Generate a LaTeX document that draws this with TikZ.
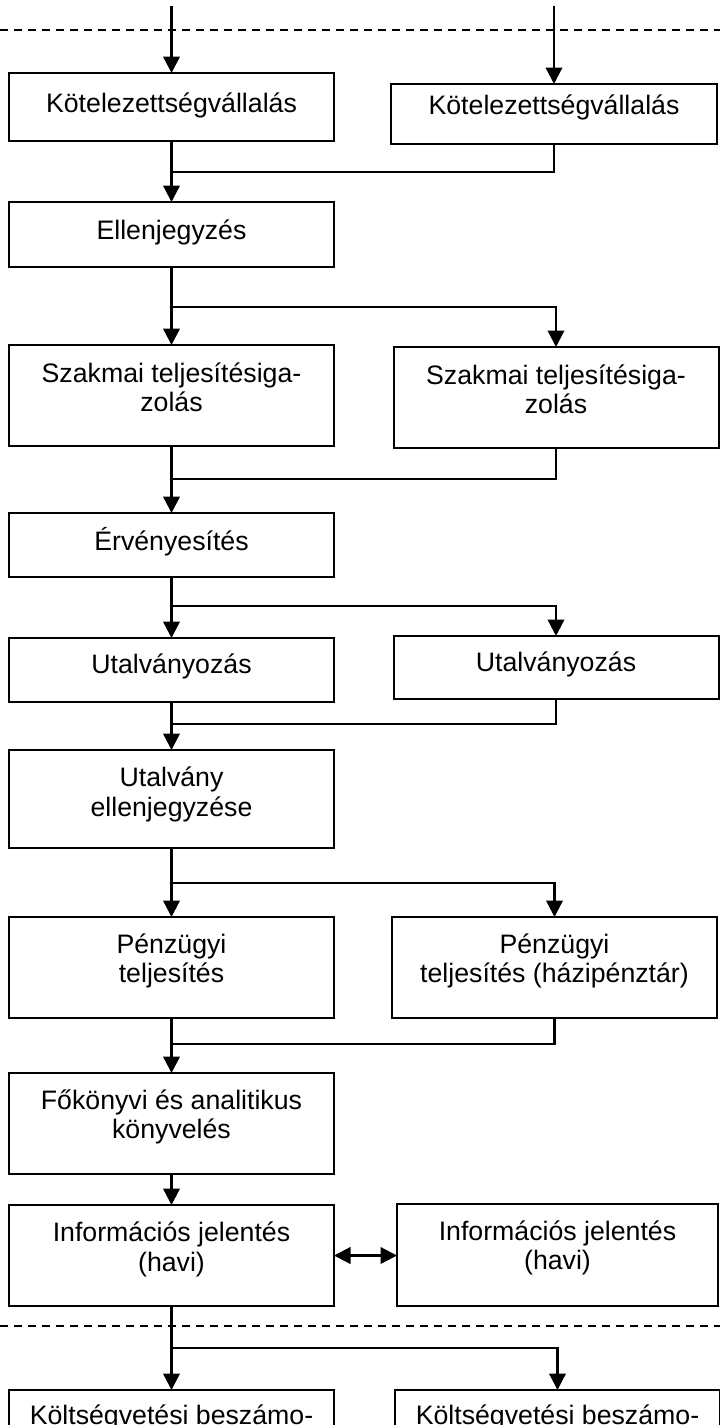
\documentclass[tikz,border=0pt]{standalone}
\usepackage{fontspec}
\setmainfont{Liberation Sans}
\usetikzlibrary{arrows.meta}
\newcommand\twoline[2]{\begin{tabular}[t]{@{}c@{}}#1\\#2\end{tabular}}
\begin{document}
\begin{tikzpicture}[x=1pt,y=-1pt,
  box/.style={draw,line width=2pt,inner sep=0pt,outer sep=0pt,rectangle},
  txt/.style={inner sep=0pt,anchor=base,font=\fontsize{26.7pt}{29.5pt}\selectfont},
  ln/.style={line width=2.3pt},
  arr/.style={line width=2.3pt,-{Triangle[length=16.5pt,width=16.5pt]}},
  darr/.style={line width=2.3pt,{Triangle[length=16.5pt,width=16.5pt]}-{Triangle[length=16.5pt,width=16.5pt]}},
  dashline/.style={line width=1.4pt,dash pattern=on 8pt off 6pt}]
\useasboundingbox (0,0) rectangle (720,1425);
\clip (0,0) rectangle (720,1425);
\fill[white] (0,0) rectangle (720,1425);

% dashed separators
\coordinate (d1a) at (0,30);   \coordinate (d1b) at (720,30);
\coordinate (d2a) at (0,1326); \coordinate (d2b) at (720,1326);
\draw[dashline] (d1a) -- (d1b);
\draw[dashline] (d2a) -- (d2b);

% boxes
\node[box,minimum width=325,minimum height=68]  (k1)  at (171.5,107)    {};
\node[box,minimum width=326,minimum height=60]  (k2)  at (554,114)      {};
\node[box,minimum width=325,minimum height=65]  (ell) at (171.5,234.5)  {};
\node[box,minimum width=325,minimum height=101] (sz1) at (171.5,395.5)  {};
\node[box,minimum width=325,minimum height=101] (sz2) at (556,397.5)    {};
\node[box,minimum width=325,minimum height=64]  (erv) at (171.5,545)    {};
\node[box,minimum width=325,minimum height=64]  (ut1) at (171.5,670)    {};
\node[box,minimum width=325,minimum height=63]  (ut2) at (556,667.5)    {};
\node[box,minimum width=325,minimum height=98]  (ue)  at (171.5,799)    {};
\node[box,minimum width=325,minimum height=101] (p1)  at (171.5,967.5)  {};
\node[box,minimum width=325,minimum height=101] (p2)  at (554.5,967.5)  {};
\node[box,minimum width=325,minimum height=101] (fk)  at (171.5,1123.5) {};
\node[box,minimum width=325,minimum height=101] (i1)  at (171.5,1255.5) {};
\node[box,minimum width=321,minimum height=102] (i2)  at (557.5,1255)   {};
\node[box,minimum width=325,minimum height=70]  (kb1) at (171.5,1425)   {};
\node[box,minimum width=325,minimum height=70]  (kb2) at (557.5,1425)   {};

% texts
\node[txt] (k1t)  at (171.5,112)    {Kötelezettségvállalás};
\node[txt] (k2t)  at (554,114)      {Kötelezettségvállalás};
\node[txt] (ellt) at (171.5,239)    {Ellenjegyzés};
\node[txt] (sz1t) at (171.5,382)    {\twoline{Szakmai teljesítésiga-}{zolás}};
\node[txt] (sz2t) at (556,384)      {\twoline{Szakmai teljesítésiga-}{zolás}};
\node[txt] (ervt) at (171.5,550)    {Érvényesítés};
\node[txt] (ut1t) at (171.5,673)    {Utalványozás};
\node[txt] (ut2t) at (556,671)      {Utalványozás};
\node[txt] (uet)  at (171.5,786.5)  {\twoline{Utalvány}{ellenjegyzése}};
\node[txt] (p1t)  at (171.5,953)    {\twoline{Pénzügyi}{teljesítés}};
\node[txt] (p2t)  at (554.5,953)    {\twoline{Pénzügyi}{teljesítés (házipénztár)}};
\node[txt] (fkt)  at (171.5,1109)   {\twoline{Főkönyvi és analitikus}{könyvelés}};
\node[txt] (i1t)  at (171.5,1241.5) {\twoline{Információs jelentés}{(havi)}};
\node[txt] (i2t)  at (557.5,1240)   {\twoline{Információs jelentés}{(havi)}};
\node[txt] (kb1t) at (171.5,1424)   {Költségvetési beszámo-};
\node[txt] (kb2t) at (557.5,1424)   {Költségvetési beszámo-};

% connectors
\coordinate (t1) at (171.5,6);
\coordinate (t2) at (554,6);
\draw[arr] (t1) -- (k1.north);
\draw[arr] (t2) -- (k2.north);

\coordinate (m1) at (171.5,172);
\draw[ln] (k2.south) |- (m1);
\draw[arr] (k1.south) -- (ell.north);

\coordinate (s1) at (171.5,307);
\draw[arr] (ell.south) -- (sz1.north);
\draw[arr] (s1) -| (sz2.north);

\coordinate (m2) at (171.5,479);
\draw[ln] (sz2.south) |- (m2);
\draw[arr] (sz1.south) -- (erv.north);

\coordinate (s2) at (171.5,606);
\draw[arr] (erv.south) -- (ut1.north);
\draw[arr] (s2) -| (ut2.north);

\coordinate (m3) at (171.5,724);
\draw[ln] (ut2.south) |- (m3);
\draw[arr] (ut1.south) -- (ue.north);

\coordinate (s3) at (171.5,883);
\draw[arr] (ue.south) -- (p1.north);
\draw[arr] (s3) -| (p2.north);

\coordinate (m4) at (171.5,1044);
\draw[ln] (p2.south) |- (m4);
\draw[arr] (p1.south) -- (fk.north);

\draw[arr] (fk.south) -- (i1.north);
\draw[darr] (i1.east) -- (i1.east -| i2.west);

\coordinate (s4) at (171.5,1348);
\draw[arr] (i1.south) -- (kb1.north);
\draw[arr] (s4) -| (kb2.north);
\end{tikzpicture}
\end{document}
